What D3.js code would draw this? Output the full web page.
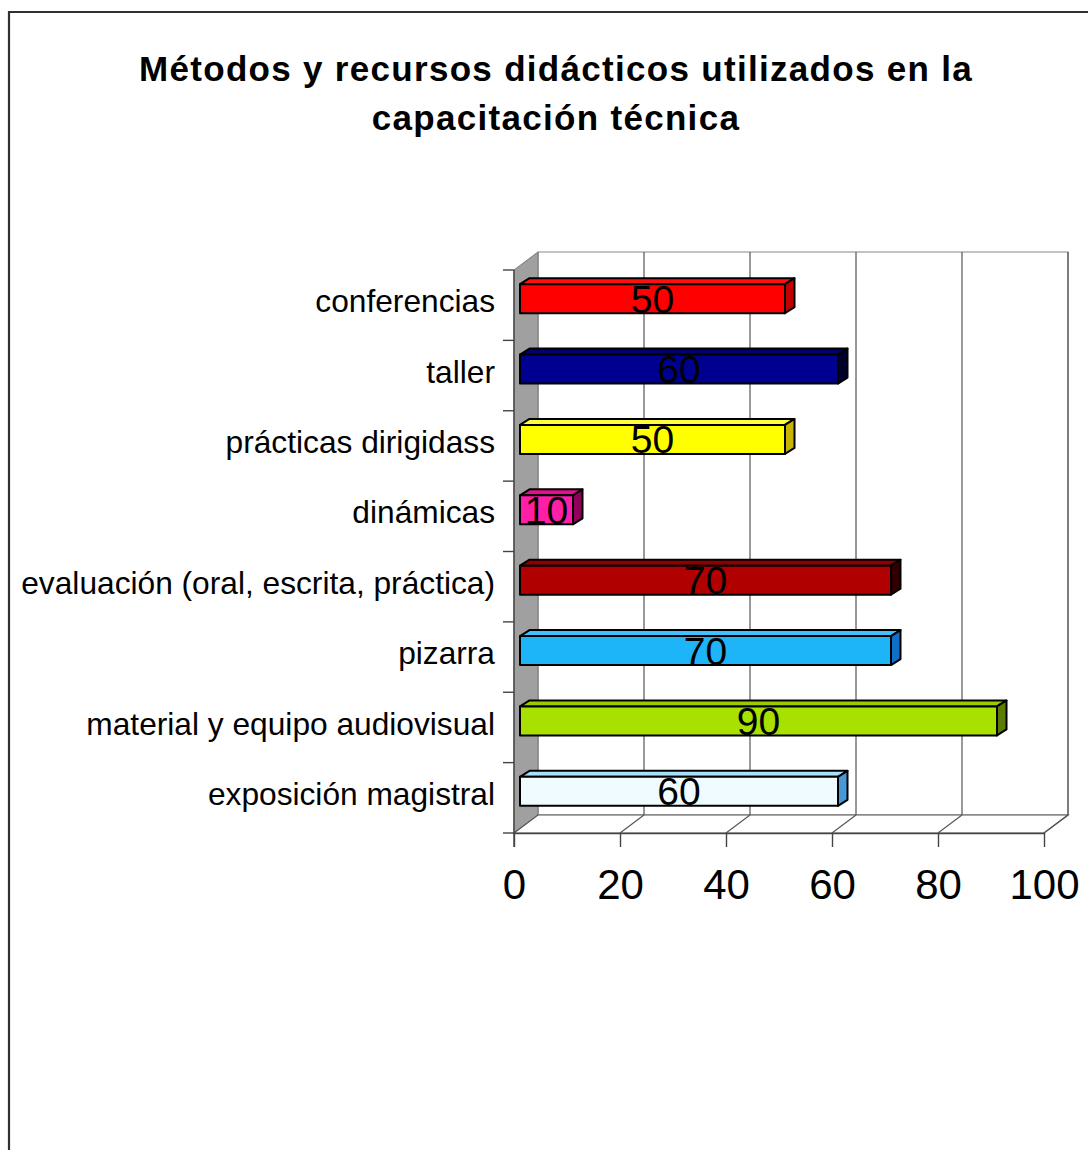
<!DOCTYPE html>
<html>
<head>
<meta charset="utf-8">
<script src="https://cdn.jsdelivr.net/npm/d3@7"></script>
<style>
  html, body { margin: 0; padding: 0; background: #fff; }
  svg { display: block; }
  text { font-family: "Liberation Sans", Arial, sans-serif; }
</style>
</head>
<body>
<svg id="chart" width="1088" height="1150"></svg>
<script>
// Chart content
const titleLines = ["Métodos y recursos didácticos  utilizados en la", "capacitación técnica"];
const categories = [
  "conferencias",
  "taller",
  "prácticas dirigidass",
  "dinámicas",
  "evaluación (oral, escrita, práctica)",
  "pizarra",
  "material y equipo audiovisual",
  "exposición magistral"
];
const values = [50, 60, 50, 10, 70, 70, 90, 60];
const tickValues = [0, 20, 40, 60, 80, 100];

// Per-bar face colours (front, top, right side)
const frontColors = ["#ff0000", "#000090", "#ffff00", "#ff1ea6", "#b00000", "#1eb4f8", "#a8e000", "#f0fbff"];
const topColors   = ["#ff1010", "#00006a", "#ffff40", "#e0108e", "#900000", "#40c0ff", "#98cc00", "#a8e2fa"];
const sideColors  = ["#c00000", "#000030", "#c8b400", "#90005a", "#300000", "#1070c8", "#5c7c00", "#4898d8"];

const svg = d3.select("#chart");

// Outer frame of the chart area
svg.append("path")
  .attr("d", "M9,1150 L9,12 L1088,12")
  .attr("fill", "none").attr("stroke", "#303030").attr("stroke-width", 2.2);

// Title
svg.append("g").selectAll("text").data(titleLines).join("text")
  .attr("x", 556).attr("y", (d, i) => 81 + i * 49)
  .attr("text-anchor", "middle")
  .attr("font-size", 35).attr("font-weight", "bold")
  .attr("letter-spacing", 1.3)
  .attr("fill", "#000")
  .text(d => d);

// Scales
const xFront = d3.scaleLinear().domain([0, 100]).range([514, 1044]); // front floor edge
const xBar = d3.scaleLinear().domain([0, 100]).range([520, 1050]);   // bar front faces
const yBand = d3.scaleBand().domain(categories).range([270, 833]);
const depth = [24, -18];       // wall / floor depth vector
const barDepth = [9.5, -6];    // bar thickness vector
const floorY = yBand.range()[1];
const topY = yBand.range()[0];

const pts = a => a.map(p => p.join(",")).join(" ");
const gWall = svg.append("g");

// Back wall
gWall.append("polygon")
  .attr("points", pts([
    [xFront(0) + depth[0], topY + depth[1]], [xFront(100) + depth[0], topY + depth[1]],
    [xFront(100) + depth[0], floorY + depth[1]], [xFront(0) + depth[0], floorY + depth[1]]
  ]))
  .attr("fill", "#fff").attr("stroke", "#888").attr("stroke-width", 1.2);

// Left (category) wall
gWall.append("polygon")
  .attr("points", pts([
    [xFront(0), topY], [xFront(0) + depth[0], topY + depth[1]],
    [xFront(0) + depth[0], floorY + depth[1]], [xFront(0), floorY]
  ]))
  .attr("fill", "#a0a0a0").attr("stroke", "#777").attr("stroke-width", 1);

// Floor
gWall.append("polygon")
  .attr("points", pts([
    [xFront(0), floorY], [xFront(100), floorY],
    [xFront(100) + depth[0], floorY + depth[1]], [xFront(0) + depth[0], floorY + depth[1]]
  ]))
  .attr("fill", "#fff").attr("stroke", "#555").attr("stroke-width", 1.2);

// Gridlines on back wall and floor
const gridVals = tickValues.filter(v => v > 0);
gWall.selectAll("line.gridBack").data(gridVals).join("line")
  .attr("class", "gridBack")
  .attr("x1", d => xFront(d) + depth[0]).attr("x2", d => xFront(d) + depth[0])
  .attr("y1", topY + depth[1]).attr("y2", floorY + depth[1])
  .attr("stroke", "#555").attr("stroke-width", 1.2);
gWall.selectAll("line.gridFloor").data(gridVals).join("line")
  .attr("class", "gridFloor")
  .attr("x1", d => xFront(d)).attr("x2", d => xFront(d) + depth[0])
  .attr("y1", floorY).attr("y2", floorY + depth[1])
  .attr("stroke", "#555").attr("stroke-width", 1.2);

// Value axis (front floor edge) with ticks
const xAxis = d3.axisBottom(xFront).tickValues(tickValues).tickSize(14).tickPadding(22).tickSizeOuter(0);
const gx = svg.append("g").attr("transform", `translate(0,${floorY})`).call(xAxis);
gx.select(".domain").attr("stroke", "#444").attr("stroke-width", 1.4);
gx.selectAll(".tick line").attr("stroke", "#444").attr("stroke-width", 1.4);
gx.selectAll(".tick text")
  .attr("font-size", 42).attr("fill", "#000")
  .attr("font-family", "'Liberation Sans', Arial, sans-serif");

// Category axis on the front edge of the left wall
const yAxis = d3.axisLeft(yBand).tickSize(0).tickPadding(19);
const gy = svg.append("g").attr("transform", `translate(${xFront(0)},-3)`).call(yAxis);
gy.select(".domain").remove();
gy.selectAll(".tick text")
  .attr("font-size", 31.7).attr("fill", "#000")
  .attr("font-family", "'Liberation Sans', Arial, sans-serif");

// Category boundary ticks and axis line
const bounds = categories.map(c => yBand(c)).concat([floorY]);
svg.append("g").selectAll("line").data(bounds).join("line")
  .attr("x1", xFront(0) - 11).attr("x2", xFront(0))
  .attr("y1", d => d).attr("y2", d => d)
  .attr("stroke", "#444").attr("stroke-width", 1.4);
svg.append("line")
  .attr("x1", xFront(0)).attr("x2", xFront(0))
  .attr("y1", topY).attr("y2", floorY + 14)
  .attr("stroke", "#444").attr("stroke-width", 1.4);

// 3D bars
const barH = 29;
const barShift = -6.5;
const gBars = svg.append("g");
categories.forEach((c, i) => {
  const v = values[i];
  const cy = yBand(c) + yBand.bandwidth() / 2 + barShift;
  const x0 = xBar(0), x1 = xBar(v);
  const y0 = cy - barH / 2, y1 = cy + barH / 2;
  const [dx, dy] = barDepth;
  const g = gBars.append("g").attr("stroke", "#000").attr("stroke-width", 2).attr("stroke-linejoin", "round");
  g.append("polygon")
    .attr("points", pts([[x0, y0], [x0 + dx, y0 + dy], [x1 + dx, y0 + dy], [x1, y0]]))
    .attr("fill", topColors[i]);
  g.append("polygon")
    .attr("points", pts([[x1, y0], [x1 + dx, y0 + dy], [x1 + dx, y1 + dy], [x1, y1]]))
    .attr("fill", sideColors[i]);
  g.append("rect")
    .attr("x", x0).attr("y", y0).attr("width", x1 - x0).attr("height", barH)
    .attr("fill", frontColors[i]);
  // value label centred on the front face
  gBars.append("text")
    .attr("x", (x0 + x1) / 2).attr("y", cy).attr("dy", "0.36em")
    .attr("text-anchor", "middle")
    .attr("font-size", 39).attr("fill", "#000")
    .text(v);
});
</script>
</body>
</html>
